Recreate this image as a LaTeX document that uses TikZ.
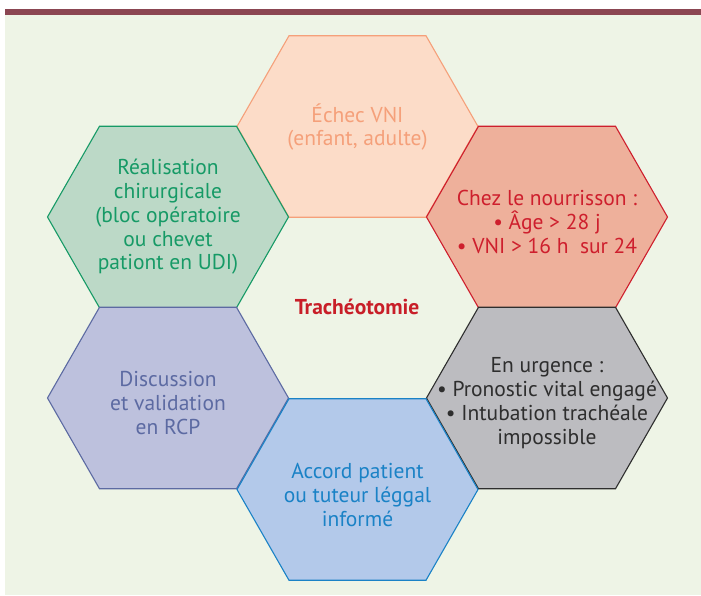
\documentclass[tikz,border=0pt]{standalone}
\usepackage{fontspec}
\setmainfont{PT Sans}
\definecolor{bgc}{HTML}{EEF4E6}
\definecolor{barc}{HTML}{8B4652}
\definecolor{peachF}{HTML}{FCDCC8}
\definecolor{peachD}{HTML}{F5A07A}
\definecolor{redF}{HTML}{EEB09B}
\definecolor{redD}{HTML}{CE1F2D}
\definecolor{greyF}{HTML}{BCBCC0}
\definecolor{greyD}{HTML}{2E2E2E}
\definecolor{blueF}{HTML}{B3C9EA}
\definecolor{blueD}{HTML}{1A82C6}
\definecolor{purpF}{HTML}{BDC1DD}
\definecolor{purpD}{HTML}{5C6AA2}
\definecolor{greenF}{HTML}{BCD9C7}
\definecolor{greenD}{HTML}{169A66}
\definecolor{titleC}{HTML}{C81E28}
\tikzset{
  hexline/.style={line width=1.1pt, line join=miter},
  hextext/.style={align=center, font=\fontsize{21.5}{23.8}\selectfont, inner sep=0pt},
}
\newcommand{\hexpath}[2]{%
  ($(#1)+(-120.5,0)$) -- ($(#1)+(-68.5,-90.75)$) -- ($(#1)+(68.5,-90.75)$) --
  ($(#1)+(120.5,0)$) -- ($(#1)+(68.5,90.75)$) -- ($(#1)+(-68.5,90.75)$) -- cycle}
\usetikzlibrary{calc}
\begin{document}
\begin{tikzpicture}[x=1pt,y=-1pt]
\useasboundingbox (0,0) rectangle (701,595);
\fill[white] (0,0) rectangle (701,595);
\fill[bgc] (5,15) rectangle (701,595);
\fill[barc] (5,9) rectangle (701,15);
\coordinate (cTop) at (357.5,126.5);
\coordinate (cUR) at (547,217);
\coordinate (cLR) at (547,398);
\coordinate (cBot) at (357.5,489.5);
\coordinate (cLL) at (168,398);
\coordinate (cUL) at (168,217);
\filldraw[hexline, fill=peachF, draw=peachD] \hexpath{cTop}{};
\filldraw[hexline, fill=greenF, draw=greenD] \hexpath{cUL}{};
\filldraw[hexline, fill=redF, draw=redD] \hexpath{cUR}{};
\filldraw[hexline, fill=purpF, draw=purpD] \hexpath{cLL}{};
\filldraw[hexline, fill=greyF, draw=greyD] \hexpath{cLR}{};
\filldraw[hexline, fill=blueF, draw=blueD] \hexpath{cBot}{};
\node[hextext, text=peachD] (tTop) at (357.5,127) {Échec VNI\\(enfant, adulte)};
\node[hextext, text=redD] (tUR) at (547,222) {Chez le nourrisson :\\• Âge > 28 j\\• VNI > 16 h\ \ sur 24};
\node[hextext, text=greyD] (tLR) at (547,403) {En urgence :\\• Pronostic vital engagé\\• Intubation trachéale\\impossible};
\node[hextext, text=blueD] (tBot) at (357.5,495) {Accord patient\\ou tuteur léggal\\informé};
\node[hextext, text=purpD] (tLL) at (168,403) {Discussion\\et validation\\en RCP};
\node[hextext, text=greenD] (tUL) at (168,217) {Réalisation\\chirurgicale\\(bloc opératoire\\ou chevet\\pationt en UDI)};
\node[font=\bfseries\fontsize{21.5}{24}\selectfont, text=titleC, inner sep=0pt] (title) at (357,307) {Trachéotomie};
\end{tikzpicture}
\end{document}
